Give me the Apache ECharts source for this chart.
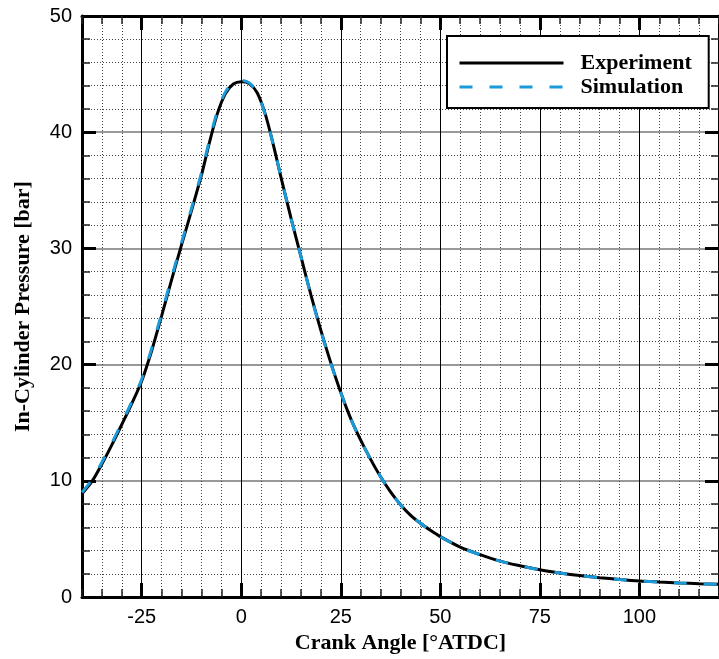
<!DOCTYPE html>
<html>
<head>
<meta charset="utf-8">
<script src="https://cdn.jsdelivr.net/npm/echarts@6/dist/echarts.min.js"></script>
<style>html,body{margin:0;padding:0;background:#fff}#c{width:719px;height:659px}</style>
</head>
<body>
<div id="c"></div>
<script>
const crankAngle = [-40,-37.5,-35,-32.5,-30,-27.5,-25,-22.5,-20,-17.5,-15,-12.5,-10,-8,-6,-4,-2,0,2,4,6,8,10,12.5,15,17.5,20,22.5,25,27.5,30,32.5,35,37.5,40,42.5,45,47.5,50,55,60,65,70,75,80,85,90,95,100,105,110,115,120];
const experiment = [8.9,9.95,11.45,13.1,14.85,16.65,18.6,21.2,24.2,27.3,30.3,33.25,36.3,39.1,41.6,43.3,44.15,44.35,44.2,43.4,41.6,39.0,36.1,32.6,29.3,26.0,22.95,20.15,17.6,15.35,13.5,11.85,10.35,9.05,7.95,7.05,6.35,5.75,5.2,4.3,3.65,3.1,2.7,2.35,2.08,1.85,1.67,1.52,1.39,1.3,1.22,1.15,1.1];
const simulation = [9.0,10.1,11.6,13.25,15.0,16.8,18.75,21.4,24.4,27.5,30.5,33.45,36.5,39.3,41.8,43.45,44.25,44.45,44.25,43.4,41.55,39.0,36.1,32.6,29.3,25.95,22.9,20.1,17.6,15.35,13.5,11.85,10.35,9.05,7.95,7.05,6.35,5.75,5.2,4.3,3.65,3.1,2.7,2.35,2.08,1.85,1.67,1.52,1.39,1.3,1.22,1.15,1.1];
const xMajorTicks = [-25,0,25,50,75,100];
const seriesNames = ['Experiment','Simulation'];

const sans = 'Liberation Sans';
const serif = 'Liberation Serif';
const dotted = {show:true, lineStyle:{color:'#444', width:1, type:[1,2]}};

function xAxisPair(pos) {
  return [
    { type:'value', position:pos, min:-40, max:120, interval:5,
      axisLine:{show:true, onZero:false, lineStyle:{color:'#000', width:3}},
      axisTick:{show:true, inside:true, length:8, lineStyle:{color:'#222', width:1.5}},
      axisLabel:{show:false},
      splitLine: pos==='bottom' ? dotted : {show:false} },
    { type:'value', position:pos, min:-40, max:120,
      axisLine:{show:false, onZero:false},
      axisTick:{show:true, inside:true, length:14, customValues:xMajorTicks, lineStyle:{color:'#000', width:3}},
      axisLabel:{show:pos==='bottom', customValues:xMajorTicks, color:'#000', fontFamily:sans, fontSize:20, margin:10},
      splitLine: pos==='bottom' ? {show:true, lineStyle:{color:'#000', width:1}} : {show:false},
      name: pos==='bottom' ? 'Crank Angle [°ATDC]' : '',
      nameLocation:'middle', nameGap:27,
      nameTextStyle:{fontFamily:serif, fontWeight:'bold', fontSize:22, color:'#000'} }
  ];
}

function yAxisDef(pos) {
  return { type:'value', position:pos, min:0, max:50, interval:10,
    axisLine:{show:true, onZero:false, lineStyle:{color:'#000', width:3}},
    axisTick:{show:true, inside:true, length:14, lineStyle:{color:'#000', width:3}},
    minorTick:{show:true, splitNumber:5, length:8, lineStyle:{color:'#222', width:1.5}},
    minorSplitLine: pos==='left' ? dotted : {show:false},
    splitLine:{show:pos==='left', lineStyle:{color:'#777', width:1.5}},
    axisLabel:{show:pos==='left', color:'#000', fontFamily:sans, fontSize:20, margin:10},
    name: pos==='left' ? 'In-Cylinder Pressure [bar]' : '',
    nameLocation:'middle', nameGap:48,
    nameTextStyle:{fontFamily:serif, fontWeight:'bold', fontSize:22, color:'#000'}
  };
}

const chart = echarts.init(document.getElementById('c'), null, {renderer:'canvas'});
chart.setOption({
  backgroundColor:'#fff',
  animation:false,
  grid:{left:82, top:16, right:-9, bottom:54},
  xAxis:[...xAxisPair('bottom'), ...xAxisPair('top')],
  yAxis:[yAxisDef('left'), yAxisDef('right')],
  legend:{
    data:seriesNames, orient:'vertical', left:447, top:36,
    itemWidth:104, itemHeight:20, itemGap:2,
    padding:[16,17,10,11],
    borderColor:'#000', borderWidth:2, backgroundColor:'#fff',
    itemStyle:{opacity:0},
    lineStyle:{width:3},
    textStyle:{fontFamily:serif, fontWeight:'bold', fontSize:22, color:'#000', padding:[0,0,0,12]}
  },
  series:[
    { name:seriesNames[0], type:'line', xAxisIndex:0, yAxisIndex:0, symbol:'none', smooth:0.3,
      data:crankAngle.map((x,i)=>[x, experiment[i]]),
      lineStyle:{color:'#000', width:3}, itemStyle:{color:'#000'}, z:3 },
    { name:seriesNames[1], type:'line', xAxisIndex:0, yAxisIndex:0, symbol:'none', smooth:0.3,
      data:crankAngle.map((x,i)=>[x, simulation[i]]),
      lineStyle:{color:'#1a9ad8', width:3, type:[13,17]}, itemStyle:{color:'#1a9ad8'}, z:4 }
  ]
});
</script>
</body>
</html>
